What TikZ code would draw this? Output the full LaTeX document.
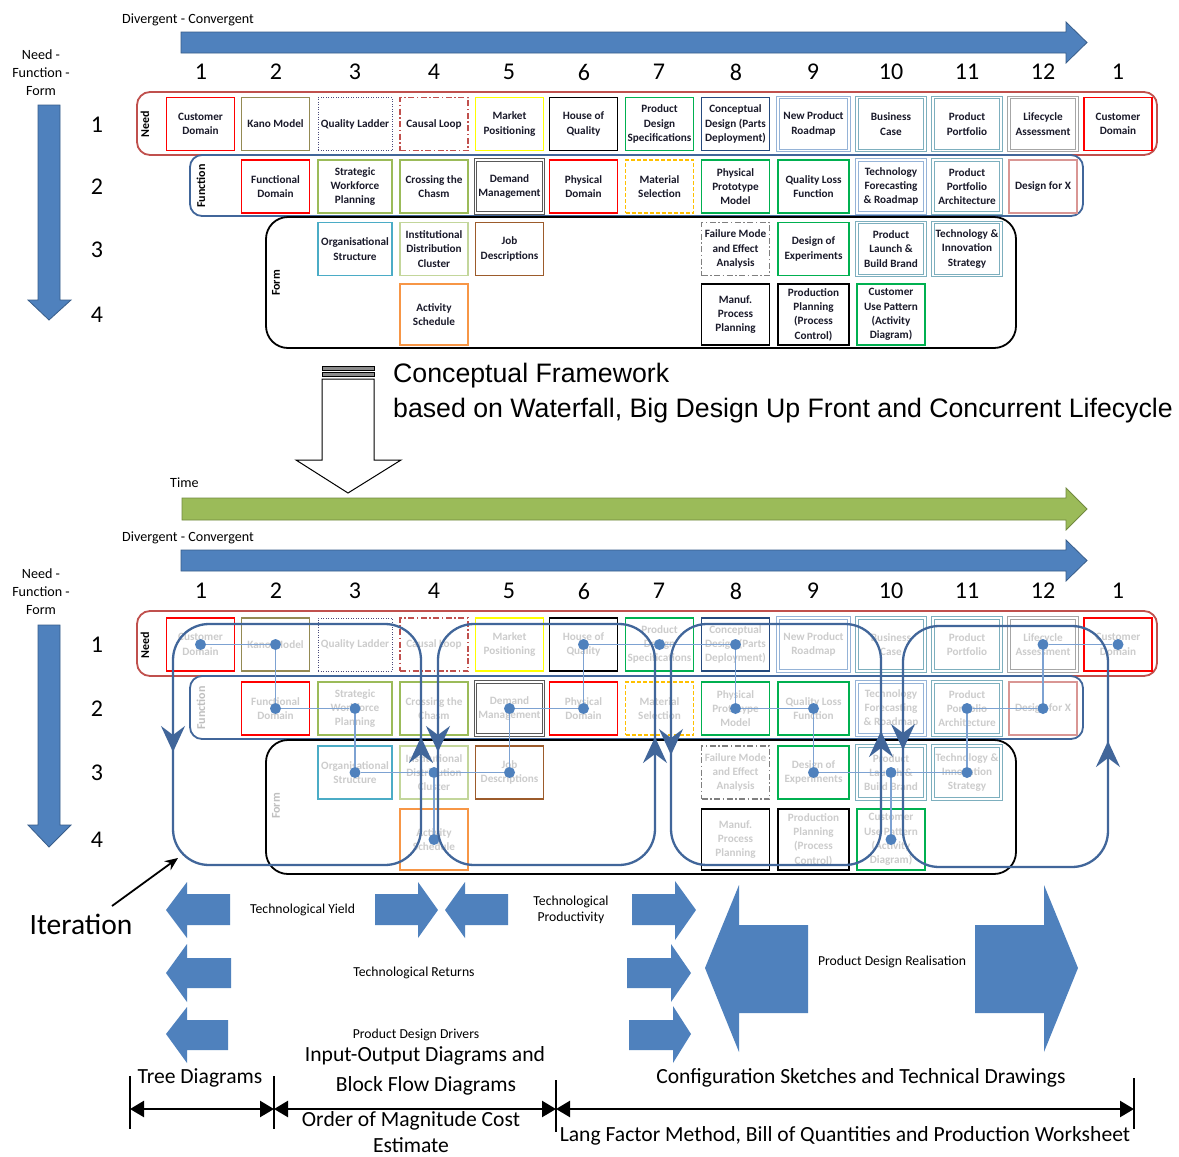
\documentclass[tikz,border=0pt]{standalone}
\usepackage{fontspec}
\setmainfont{Carlito}
\newfontfamily\arialfont{Liberation Sans}
\usetikzlibrary{arrows.meta}
\definecolor{cRed}{HTML}{FF0000}
\definecolor{cOlive}{HTML}{948A54}
\definecolor{cDotB}{HTML}{4A4A7A}
\definecolor{cCausal}{HTML}{C0504D}
\definecolor{cYellow}{HTML}{FFFF00}
\definecolor{cGreen}{HTML}{00B050}
\definecolor{cNavy}{HTML}{254A7E}
\definecolor{cLtBlue}{HTML}{95B3D7}
\definecolor{cTeal}{HTML}{7DAFBE}
\definecolor{cGray}{HTML}{A6A6A6}
\definecolor{cLtGreen}{HTML}{9BBB59}
\definecolor{cPaleGreen}{HTML}{C3D69B}
\definecolor{cDemand}{HTML}{595959}
\definecolor{cGold}{HTML}{FFC000}
\definecolor{cPink}{HTML}{D99694}
\definecolor{cCyan}{HTML}{4BACC6}
\definecolor{cBrown}{HTML}{9C5B2B}
\definecolor{cFMEA}{HTML}{7F7F7F}
\definecolor{cOrange}{HTML}{F79646}
\definecolor{cBlue}{HTML}{4F81BD}
\definecolor{cBlueDark}{HTML}{385D8A}
\definecolor{cGreenA}{HTML}{9BBB59}
\definecolor{cGreenADark}{HTML}{71893F}
\definecolor{cNeedGrp}{HTML}{C0504D}
\definecolor{cFuncGrp}{HTML}{41669A}
\definecolor{cLoop}{HTML}{41669A}
\definecolor{cLink}{HTML}{7DA2D2}
\definecolor{cTxt}{HTML}{1A1A2A}
\tikzset{
  box/.style={draw, fill=white, minimum width=68pt, minimum height=53pt, inner sep=0pt, align=center,
    font=\fontsize{11.2}{14.3}\selectfont\bfseries, line width=1.4pt},
  wbox/.style={minimum width=74pt},
  mbox/.style={minimum width=71pt},
  tbox/.style={minimum height=61pt},
  dbl/.style={double=white, double distance=1.5pt, line width=0.8pt},
  dashdotb/.style={dash pattern=on 6pt off 2.5pt on 1.5pt off 2.5pt},
  dottedb/.style={dash pattern=on 1pt off 1.5pt, line width=0.9pt},
  dashedb/.style={dash pattern=on 4pt off 2pt},
  smalltxt/.style={font=\fontsize{14.1}{18}\selectfont, inner sep=0pt, align=center},
  numtxt/.style={font=\fontsize{24}{28}\selectfont, inner sep=0pt},
  grplab/.style={font=\fontsize{12}{14}\selectfont\bfseries, inner sep=0pt, rotate=90},
  midtxt/.style={font=\fontsize{13.7}{16}\selectfont, inner sep=0pt, align=center},
  bigtxt/.style={font=\fontsize{21.6}{24}\selectfont, inner sep=0pt, align=center},
  blockarrow/.style={fill=cBlue, draw=cBlueDark, line width=0.8pt},
  flatarrow/.style={fill=cBlue},
  needgrp/.style={draw=cNeedGrp, line width=1.8pt, rounded corners=13pt},
  funcgrp/.style={draw=cFuncGrp, line width=1.8pt, rounded corners=12pt},
  formgrp/.style={draw=black, line width=1.8pt, rounded corners=22pt},
  dotn/.style={circle, fill=cBlue, minimum size=11pt, inner sep=0pt},
  linkline/.style={draw=cLink, line width=1.6pt},
  loopline/.style={draw=cLoop, line width=2.3pt},
  looparrow/.style={draw=cLoop, line width=2.3pt, -{Stealth[length=26pt, width=24pt, inset=9pt]}},
  dimline/.style={line width=2.4pt, {Triangle[length=14pt,width=16pt]}-{Triangle[length=14pt,width=16pt]}},
  dimtick/.style={line width=1.8pt},
}
% #1 prefix, #2..#5 row centres, #6 text colour
\newcommand{\mygrid}[6]{%
  \node[box, draw=cRed, text=#6] (#1a1) at (200.5,#2) {Customer\\Domain};
  \node[box, draw=cOlive, text=#6] (#1a2) at (275.5,#2) {Kano Model};
  \node[box, wbox, draw=cDotB, dottedb, text=#6] (#1a3) at (355,#2) {Quality Ladder};
  \node[box, draw=cCausal, dashdotb, text=#6] (#1a4) at (434,#2) {Causal Loop};
  \node[box, draw=cYellow, text=#6] (#1a5) at (509.5,#2) {Market\\Positioning};
  \node[box, draw=black, text=#6] (#1a6) at (583.5,#2) {House of\\Quality};
  \node[box, draw=cGreen, text=#6] (#1a7) at (659.5,#2) {Product\\Design\\Specifications};
  \node[box, draw=cNavy, text=#6] (#1a8) at (735.5,#2) {Conceptual\\Design (Parts\\Deployment)};
  \node[box, mbox, draw=cLtBlue, dbl, text=#6] (#1a9) at (813.5,#2) {New Product\\Roadmap};
  \node[box, draw=cTeal, dbl, text=#6] (#1a10) at (891,#2) {Business\\Case};
  \node[box, draw=cTeal, dbl, text=#6] (#1a11) at (967,#2) {Product\\Portfolio};
  \node[box, draw=cGray, dbl, text=#6] (#1a12) at (1043,#2) {Lifecycle\\Assessment};
  \node[box, draw=cRed, text=#6] (#1a13) at (1118,#2) {Customer\\Domain};
  %
  \node[box, draw=cRed, text=#6] (#1b2) at (275.5,#3) {Functional\\Domain};
  \node[box, wbox, draw=cLtGreen, text=#6] (#1b3) at (355,#3) {Strategic\\Workforce\\Planning};
  \node[box, draw=cLtGreen, text=#6] (#1b4) at (434,#3) {Crossing the\\Chasm};
  \node[box, draw=cDemand, dbl, text=#6] (#1b5) at (509.5,#3) {Demand\\Management};
  \node[box, draw=cRed, text=#6] (#1b6) at (583.5,#3) {Physical\\Domain};
  \node[box, draw=cGold, dashedb, text=#6] (#1b7) at (659.5,#3) {Material\\Selection};
  \node[box, draw=cGreen, text=#6] (#1b8) at (735.5,#3) {Physical\\Prototype\\Model};
  \node[box, mbox, draw=cGreen, text=#6] (#1b9) at (813.5,#3) {Quality Loss\\Function};
  \node[box, draw=cLtBlue, dbl, text=#6] (#1b10) at (891,#3) {Technology\\Forecasting\\\& Roadmap};
  \node[box, draw=cTeal, dbl, text=#6] (#1b11) at (967,#3) {Product\\Portfolio\\Architecture};
  \node[box, draw=cPink, text=#6] (#1b12) at (1043,#3) {Design for X};
  %
  \node[box, wbox, draw=cCyan, text=#6] (#1c3) at (355,#4) {Organisational\\Structure};
  \node[box, draw=cPaleGreen, text=#6] (#1c4) at (434,#4) {Institutional\\Distribution\\Cluster};
  \node[box, draw=cBrown, text=#6] (#1c5) at (509.5,#4) {Job\\Descriptions};
  \node[box, draw=cFMEA, dashdotb, text=#6] (#1c8) at (735.5,#4) {Failure Mode\\and Effect\\Analysis};
  \node[box, mbox, draw=cGreen, text=#6] (#1c9) at (813.5,#4) {Design of\\Experiments};
  \node[box, draw=cTeal, dbl, text=#6] (#1c10) at (891,#4) {Product\\Launch \&\\Build Brand};
  \node[box, draw=cTeal, dbl, text=#6] (#1c11) at (967,#4) {Technology \&\\Innovation\\Strategy};
  %
  \node[box, tbox, draw=cOrange, text=#6] (#1d4) at (434,#5) {Activity\\Schedule};
  \node[box, tbox, draw=black, text=#6] (#1d8) at (735.5,#5) {Manuf.\\Process\\Planning};
  \node[box, tbox, mbox, draw=black, text=#6] (#1d9) at (813.5,#5) {Production\\Planning\\(Process\\Control)};
  \node[box, tbox, draw=cGreen, text=#6] (#1d10) at (891,#5) {Customer\\Use Pattern\\(Activity\\Diagram)};
}
\begin{document}
\begin{tikzpicture}[x=1pt,y=-1pt]
\useasboundingbox (0,0) rectangle (1179,1157);
\fill[white] (0,0) rectangle (1179,1157);

% ================= TOP PANEL =================
\node[smalltxt, anchor=west] (tdc) at (122,20) {Divergent - Convergent};
\draw[blockarrow] (181,32) -- (1066,32) -- (1066,22) -- (1087,42.5) -- (1066,63) -- (1066,53) -- (181,53) -- cycle;
\foreach \x/\n [count=\i] in {201/1,276/2,355/3,434/4,509/5,584/6,659/7,736/8,813/9,891/10,967/11,1043/12,1118/1}
  \node[numtxt] (tcol\i) at (\x,72) {\n};
\node[smalltxt] (tnff) at (41,73) {Need -\\Function -\\Form};
\draw[blockarrow] (38,105) -- (60,105) -- (60,300) -- (71,300) -- (49,320) -- (28,300) -- (38,300) -- cycle;
\foreach \y/\n in {125/1,187/2,250/3,315/4}
  \node[numtxt] (trow\n) at (97,\y) {\n};

\draw[needgrp] (137,92) rectangle (1157,155);
\draw[funcgrp] (190,155) rectangle (1083,216);
\draw[formgrp] (266,217) rectangle (1016,348);
\node[grplab] (tneed) at (145,124) {Need};
\node[grplab] (tfunc) at (201,186) {Function};
\node[grplab] (tform) at (276,283) {Form};
\mygrid{t}{124}{186.5}{249}{314.5}{cTxt}

% ================= MIDDLE =================
\draw[black, line width=0.8pt, fill=black!45] (322,366) rectangle (374,370);
\draw[black, line width=0.8pt, fill=black!45] (322,372.5) rectangle (374,376.5);
\draw[black, line width=1pt, fill=white] (322,379) -- (374,379) -- (374,460) -- (401,460) -- (348,493) -- (296,460) -- (322,460) -- cycle;
\node[font=\arialfont\fontsize{26.7}{30}\selectfont, anchor=west, inner sep=0pt] (cf1) at (393,376) {Conceptual Framework};
\node[font=\arialfont\fontsize{26.7}{30}\selectfont, anchor=west, inner sep=0pt] (cf2) at (393,411) {based on Waterfall, Big Design Up Front and Concurrent Lifecycle};

% ================= BOTTOM PANEL =================
\node[smalltxt, anchor=west] (btime) at (170,483) {Time};
\draw[fill=cGreenA, draw=cGreenADark, line width=0.8pt] (182,498) -- (1066,498) -- (1066,488) -- (1087,509) -- (1066,530) -- (1066,520) -- (182,520) -- cycle;
\node[smalltxt, anchor=west] (bdc) at (122,538) {Divergent - Convergent};
\draw[blockarrow] (181,550) -- (1066,550) -- (1066,540) -- (1087,560.5) -- (1066,581) -- (1066,571) -- (181,571) -- cycle;
\foreach \x/\n [count=\i] in {201/1,276/2,355/3,434/4,509/5,584/6,659/7,736/8,813/9,891/10,967/11,1043/12,1118/1}
  \node[numtxt] (bcol\i) at (\x,591) {\n};
\node[smalltxt] (bnff) at (41,592) {Need -\\Function -\\Form};
\draw[blockarrow] (38,625) -- (60,625) -- (60,825) -- (71,825) -- (49,847) -- (28,825) -- (38,825) -- cycle;
\foreach \y/\n in {645/1,709/2,773/3,840/4}
  \node[numtxt] (brow\n) at (97,\y) {\n};

\draw[needgrp] (137,611) rectangle (1157,676);
\draw[funcgrp] (190,676) rectangle (1083,739);
\draw[formgrp] (266,740) rectangle (1016,874);
\node[grplab] (bneed) at (145,645) {Need};
\node[grplab, text=black!25] (bfunc) at (201,708) {Function};
\node[grplab, text=black!25] (bform) at (276,806) {Form};
\mygrid{b}{644.5}{708.5}{772.5}{839.5}{black!20}

% dots and links
\foreach \n in {a1,a2,b2,b3,c3,c4,d4,c5,b5,b6,a6,a7,a8,b8,b9,c9,c10,d10,c11,b11,b12,a12,a13}
  \node[dotn] (dt\n) at (b\n.center) {};
\foreach \p/\q in {a1/a2,a2/b2,b2/b3,b3/c3,c3/c4,c4/c5,c4/d4,c5/b5,b5/b6,b6/a6,a6/a7,a7/a8,a8/b8,b8/b9,b9/c9,c9/c10,c10/c11,c10/d10,c11/b11,b11/b12,b12/a12,a12/a13}
  \draw[linkline] (dt\p) -- (dt\q);

% loops
\draw[loopline, rounded corners=36pt] (173,624) rectangle (421,865);
\draw[loopline, rounded corners=36pt] (438,624) rectangle (655,865);
\draw[loopline, rounded corners=36pt] (671,624) rectangle (881,865);
\draw[loopline, rounded corners=36pt] (903,626) rectangle (1108,867);
\draw[looparrow] (173,725) -- (173,752);
\draw[looparrow] (421,765) -- (421,737);
\draw[looparrow] (438,725) -- (438,752);
\draw[looparrow] (655,765) -- (655,737);
\draw[looparrow] (671,728) -- (671,755);
\draw[looparrow] (881,758) -- (881,731);
\draw[looparrow] (903,723) -- (903,750);
\draw[looparrow] (1108,768) -- (1108,741);

% iteration
\node[font=\fontsize{29.5}{32}\selectfont, inner sep=0pt] (iter) at (81,924) {Iteration};
\coordinate (itS) at (112,906);
\coordinate (itE) at (178,858);
\draw[line width=1.8pt, -{Stealth[length=13pt,width=11pt]}] (itS) -- (itE);

% block arrows
\fill[flatarrow] (166,910) -- (187,882) -- (187,894) -- (230,894) -- (230,925) -- (187,925) -- (187,938) -- cycle;
\fill[flatarrow] (166,973) -- (187,944) -- (187,958) -- (231,958) -- (231,988) -- (187,988) -- (187,1002) -- cycle;
\fill[flatarrow] (166,1034) -- (187,1007) -- (187,1020) -- (228,1020) -- (228,1050) -- (187,1050) -- (187,1063) -- cycle;
\fill[flatarrow] (375,894) -- (418,894) -- (418,882) -- (438,910) -- (418,938) -- (418,925) -- (375,925) -- cycle;
\fill[flatarrow] (445,910) -- (465,882) -- (465,894) -- (508,894) -- (508,925) -- (465,925) -- (465,938) -- cycle;
\fill[flatarrow] (632,894) -- (675,894) -- (675,881) -- (696,910) -- (675,940) -- (675,925) -- (632,925) -- cycle;
\fill[flatarrow] (627,958) -- (671,958) -- (671,944) -- (691,973) -- (671,1002) -- (671,988) -- (627,988) -- cycle;
\fill[flatarrow] (629,1020) -- (673,1020) -- (673,1006) -- (691,1034) -- (673,1063) -- (673,1050) -- (629,1050) -- cycle;
\fill[flatarrow] (705,968) -- (739,885) -- (739,925) -- (808,925) -- (808,1013) -- (739,1013) -- (739,1052) -- cycle;
\fill[flatarrow] (975,925) -- (1044,925) -- (1044,885) -- (1078,968) -- (1044,1052) -- (1044,1013) -- (975,1013) -- cycle;

\node[midtxt, anchor=west] (tyield) at (250,910) {Technological Yield};
\node[midtxt] (tprod) at (571,910) {Technological\\Productivity};
\node[midtxt] (tret) at (414,973) {Technological Returns};
\node[midtxt] (tdrv) at (416,1035) {Product Design Drivers};
\node[midtxt] (treal) at (892,962) {Product Design Realisation};

\node[bigtxt] (io1) at (425,1056) {Input-Output Diagrams and};
\node[bigtxt] (io2) at (426,1086) {Block Flow Diagrams};
\node[bigtxt] (tree) at (200,1078) {Tree Diagrams};
\node[bigtxt] (conf) at (861,1078) {Configuration Sketches and Technical Drawings};
\node[bigtxt] (oom1) at (411,1121) {Order of Magnitude Cost};
\node[bigtxt] (oom2) at (411,1145) {Estimate};
\node[bigtxt] (lang) at (845,1136) {Lang Factor Method, Bill of Quantities and Production Worksheet};

\coordinate (dm0) at (130,1109);
\coordinate (dm1) at (274,1109);
\coordinate (dm2) at (556,1109);
\coordinate (dm3) at (1134,1109);
\draw[dimtick] (130,1076) -- (130,1129);
\draw[dimtick] (274,1076) -- (274,1129);
\draw[dimtick] (556,1080) -- (556,1132);
\draw[dimtick] (1134,1078) -- (1134,1129);
\draw[dimline] (dm0) -- (dm1);
\draw[dimline] (dm1) -- (dm2);
\draw[dimline] (dm2) -- (dm3);
\end{tikzpicture}
\end{document}
